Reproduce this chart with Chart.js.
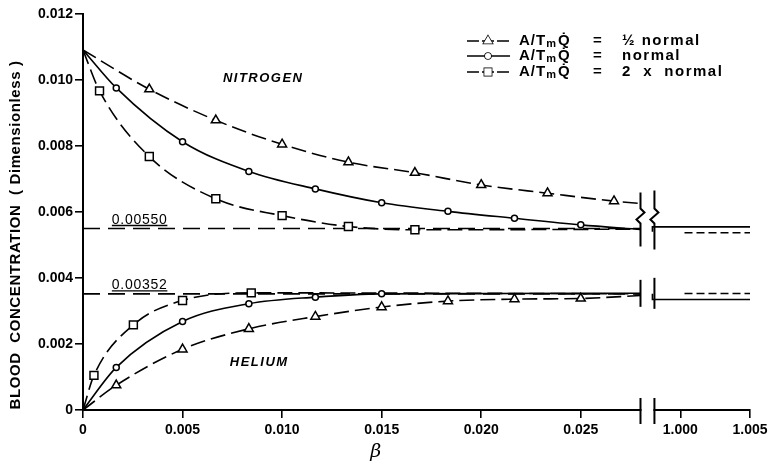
<!DOCTYPE html>
<html>
<head>
<meta charset="utf-8">
<script src="https://cdn.jsdelivr.net/npm/chart.js@4.4.0/dist/chart.umd.min.js"></script>
<style>
html, body { margin: 0; padding: 0; background: #fff; }
#wrap { width: 774px; height: 464px; }
</style>
</head>
<body>
<div id="wrap"><canvas id="c" width="774" height="464"></canvas></div>
<script>
// Blood concentration vs beta
// nitrogen: A/TmQ = 1/2 normal (triangles), normal (circles), 2 x normal (squares)
var n2HalfX = [0, 0.00333, 0.00667, 0.0100, 0.01333, 0.01667, 0.0200, 0.02333, 0.02667, 0.0280];
var n2HalfY = [0.01091, 0.00972, 0.00878, 0.00805, 0.00751, 0.00719, 0.00682, 0.00657, 0.00633, 0.00626];
var n2NormX = [0, 0.00167, 0.0050, 0.00833, 0.01167, 0.0150, 0.01833, 0.02167, 0.0250, 0.0280];
var n2NormY = [0.01091, 0.00976, 0.00813, 0.00723, 0.00670, 0.00628, 0.00602, 0.00581, 0.00561, 0.00547];
var n2TwoX = [0, 0.00083, 0.00333, 0.00667, 0.0100, 0.01333, 0.01667, 0.0280];
var n2TwoY = [0.01091, 0.00967, 0.00768, 0.00640, 0.00589, 0.00556, 0.00546, 0.00548];

// helium
var heHalfX = [0, 0.00167, 0.0050, 0.00833, 0.01167, 0.0150, 0.01833, 0.02167, 0.0250, 0.0280];
var heHalfY = [0, 0.00075, 0.00184, 0.00246, 0.00283, 0.00312, 0.00330, 0.00336, 0.00338, 0.00347];
var heNormX = [0, 0.00167, 0.0050, 0.00833, 0.01167, 0.0150, 0.0280];
var heNormY = [0, 0.00129, 0.00268, 0.00322, 0.00342, 0.00352, 0.00354];
var heTwoX = [0, 0.00055, 0.00253, 0.0050, 0.00845, 0.0280];
var heTwoY = [0, 0.00105, 0.00258, 0.00332, 0.00355, 0.00352];

// asymptotes
var n2Asym = 0.00550;
var heAsym = 0.00352;
var asymX = [0, 0.0280];

// right-hand section (beta near 1)
var n2RightSolidX = [0.998, 1.000, 1.005];
var n2RightSolidY = [0.00540, 0.00555, 0.00555];
var n2RightDashX = [1.0003, 1.005];
var n2RightDashY = [0.00537, 0.00537];
var heRightSolidX = [0.998, 1.000, 1.005];
var heRightSolidY = [0.00352, 0.00335, 0.00335];
var heRightDashX = [1.0003, 1.005];
var heRightDashY = [0.00353, 0.00353];

var xTickBeta = [0, 0.005, 0.010, 0.015, 0.020, 0.025, 1.000, 1.005];
var xTickLabels = ['0', '0.005', '0.010', '0.015', '0.020', '0.025', '1.000', '1.005'];
var legendLabels = ['\u00bd normal', 'normal', '2  x  normal'];

// broken axis: beta near 1 is squeezed in after the break
function toAxis(b) { return b < 0.5 ? b : 0.030 + (b - 1) * 0.7; }
var breakLeft = 0.0280, breakRight = 0.0287;

function pts(xs, ys) {
    return xs.map(function(b, i) { return { x: toAxis(b), y: ys[i] }; });
}
function markerRadius(r) {
    return function(c) {
        var n = c.dataset.data.length;
        return (c.dataIndex === 0 || c.dataIndex === n - 1) ? 0 : r;
    };
}
function curve(xs, ys, style, r, dash) {
    return {
        data: pts(xs, ys),
        borderColor: '#000',
        borderWidth: 1.6,
        borderDash: dash,
        pointStyle: style,
        pointRadius: markerRadius(r),
        pointBackgroundColor: '#fff',
        pointBorderColor: '#000',
        pointBorderWidth: 1.5,
        cubicInterpolationMode: 'monotone',
        fill: false
    };
}
function flat(xs, ys, dash, stepped) {
    return {
        data: pts(xs, ys),
        borderColor: '#000',
        borderWidth: 1.6,
        borderDash: dash,
        pointRadius: 0,
        stepped: stepped || false,
        fill: false
    };
}

var longDash = [15, 6];
var asymDash = [17, 8];

var datasets = [
    curve(n2HalfX, n2HalfY, 'triangle', 5.2, longDash),
    curve(n2NormX, n2NormY, 'circle', 3, []),
    curve(n2TwoX, n2TwoY, 'rect', 5.6, longDash),
    curve(heHalfX, heHalfY, 'triangle', 5.2, longDash),
    curve(heNormX, heNormY, 'circle', 3, []),
    curve(heTwoX, heTwoY, 'rect', 5.6, longDash),
    flat(asymX, asymX.map(function() { return n2Asym; }), asymDash),
    flat(asymX, asymX.map(function() { return heAsym; }), asymDash),
    flat(n2RightSolidX, n2RightSolidY, [], 'after'),
    flat(n2RightDashX, n2RightDashY, [8, 4]),
    flat(heRightSolidX, heRightSolidY, [], 'after'),
    flat(heRightDashX, heRightDashY, [8, 4])
];

var FONT = 'Liberation Sans, Arial, sans-serif';

var decor = {
    id: 'decor',
    afterDraw: function(chart) {
        var ctx = chart.ctx, xs = chart.scales.x, ys = chart.scales.y;
        var bl = xs.getPixelForValue(breakLeft), br = xs.getPixelForValue(breakRight);
        ctx.save();
        ctx.strokeStyle = '#000';
        ctx.fillStyle = '#000';
        ctx.setLineDash([]);

        // gap in the x axis with two break bars
        ctx.fillStyle = '#fff';
        ctx.fillRect(bl + 1, ys.bottom - 3, br - bl - 2, 6);
        ctx.fillStyle = '#000';
        ctx.lineWidth = 2;
        function vline(x, y1, y2) {
            ctx.beginPath(); ctx.moveTo(x, y1); ctx.lineTo(x, y2); ctx.stroke();
        }
        vline(bl, ys.bottom - 12, ys.bottom + 14);
        vline(br, ys.bottom - 12, ys.bottom + 14);

        // helium break bars
        var yHe = ys.getPixelForValue(heAsym);
        vline(bl, yHe - 14, yHe + 13);
        vline(br, yHe - 16, yHe + 15);

        // nitrogen break bars with a zigzag
        var yN = ys.getPixelForValue(n2Asym);
        function zig(x, y1, y2) {
            ctx.beginPath();
            ctx.moveTo(x, y1);
            ctx.lineTo(x, yN - 20);
            ctx.lineTo(x + 4, yN - 16);
            ctx.lineTo(x - 4, yN - 9);
            ctx.lineTo(x, yN - 5);
            ctx.lineTo(x, y2);
            ctx.stroke();
        }
        zig(bl, yN - 36, yN + 18);
        zig(br, yN - 38, yN + 21);

        // asymptote labels, underlined
        ctx.font = '14px ' + FONT;
        ctx.textAlign = 'left';
        ctx.textBaseline = 'alphabetic';
        ctx.letterSpacing = '0.7px';
        function asymLabel(txt, v) {
            var x = xs.getPixelForValue(0.00145), y = ys.getPixelForValue(v) - 3;
            var w = ctx.measureText(txt).width;
            ctx.fillText(txt, x, y - 2);
            ctx.lineWidth = 1.4;
            ctx.beginPath(); ctx.moveTo(x, y); ctx.lineTo(x + w, y); ctx.stroke();
        }
        asymLabel('0.00550', n2Asym);
        asymLabel('0.00352', heAsym);

        // gas names
        ctx.font = 'italic bold 13px ' + FONT;
        ctx.textAlign = 'center';
        ctx.textBaseline = 'middle';
        ctx.letterSpacing = '1.5px';
        ctx.fillText('NITROGEN', xs.getPixelForValue(0.00905), ys.getPixelForValue(0.01006));
        ctx.fillText('HELIUM', xs.getPixelForValue(0.00885), ys.getPixelForValue(0.00145));
        ctx.letterSpacing = '0px';

        // axis titles
        ctx.save();
        ctx.translate(16, 235);
        ctx.rotate(-Math.PI / 2);
        ctx.font = 'bold 15px ' + FONT;
        ctx.letterSpacing = '0.6px';
        ctx.fillText('BLOOD  CONCENTRATION  ( Dimensionless )', 0, 0);
        ctx.restore();
        ctx.font = 'italic 19px DejaVu Serif, serif';
        ctx.fillText('\u03b2', xs.getPixelForValue(0.0147), 452);

        // legend
        var rows = [41, 56, 72];
        ctx.textBaseline = 'middle';
        ctx.textAlign = 'left';
        for (var i = 0; i < 3; i++) {
            var ds = chart.data.datasets[i], y = rows[i];
            ctx.lineWidth = 1.6;
            ctx.setLineDash(ds.borderDash.length ? [12, 3] : []);
            ctx.beginPath(); ctx.moveTo(467, y); ctx.lineTo(510, y); ctx.stroke();
            ctx.setLineDash([]);
            ctx.fillStyle = '#fff';
            ctx.lineWidth = 1.5;
            Chart.helpers.drawPoint(ctx, {
                pointStyle: ds.pointStyle,
                radius: ds.pointStyle === 'circle' ? 3 : 5.2,
                borderWidth: 1.5
            }, 488, y);
            ctx.fill();
            ctx.fillStyle = '#000';
            ctx.font = 'bold 15px ' + FONT;
            ctx.letterSpacing = '1px';
            ctx.fillText('A/T', 519, y);
            var w = ctx.measureText('A/T').width;
            ctx.font = 'bold 11px ' + FONT;
            ctx.fillText('m', 519 + w, y + 3);
            var wm = ctx.measureText('m').width;
            ctx.font = 'bold 15px ' + FONT;
            ctx.fillText('Q\u0307', 519 + w + wm + 1, y);
            ctx.fillText('=', 593, y);
            ctx.letterSpacing = '1.5px';
            ctx.fillText(legendLabels[i], 622, y);
        }
        ctx.restore();
    }
};

new Chart(document.getElementById('c'), {
    type: 'line',
    data: { datasets: datasets },
    plugins: [decor],
    options: {
        responsive: false,
        animation: false,
        devicePixelRatio: 1,
        layout: { padding: { left: 0, top: 14, right: 24, bottom: 0 } },
        plugins: { legend: { display: false }, tooltip: { enabled: false } },
        scales: {
            x: {
                type: 'linear',
                min: 0,
                max: toAxis(1.005),
                afterBuildTicks: function(scale) {
                    scale.ticks = xTickBeta.map(function(b) { return { value: toAxis(b) }; });
                },
                afterFit: function(scale) { scale.height = 54; },
                ticks: {
                    autoSkip: false,
                    maxRotation: 0,
                    padding: 4,
                    color: '#000',
                    font: { family: FONT, size: 14, weight: 'bold' },
                    callback: function(v, i) { return xTickLabels[i]; }
                },
                grid: { drawOnChartArea: false, drawTicks: true, tickLength: 8, color: '#000', lineWidth: 1.6 },
                border: { display: true, color: '#000', width: 2 }
            },
            y: {
                min: 0,
                max: 0.012,
                afterFit: function(scale) { scale.width = 83; },
                ticks: {
                    stepSize: 0.002,
                    padding: 2,
                    color: '#000',
                    font: { family: FONT, size: 14, weight: 'bold' },
                    callback: function(v) { return v === 0 ? '0' : v.toFixed(3); }
                },
                grid: { drawOnChartArea: false, drawTicks: true, tickLength: 8, color: '#000', lineWidth: 1.6 },
                border: { display: true, color: '#000', width: 2 }
            }
        }
    }
});
</script>
</body>
</html>
